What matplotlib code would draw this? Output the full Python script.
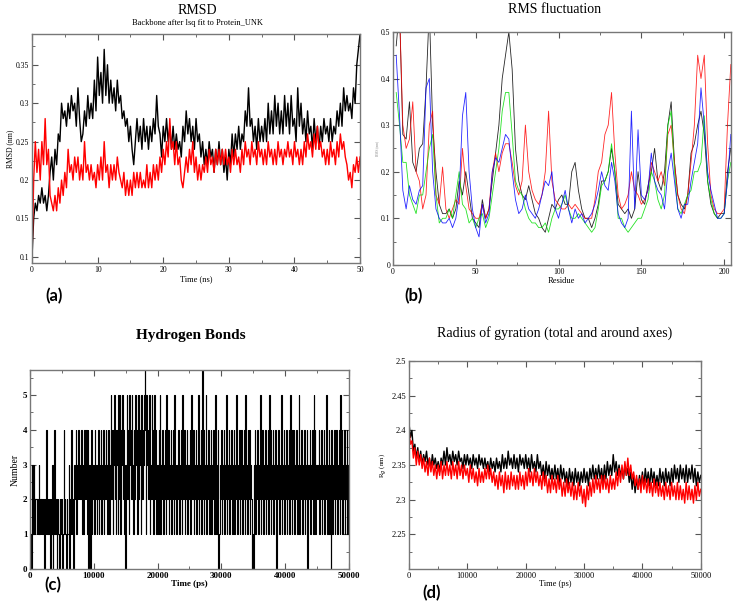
import numpy as np
import matplotlib
matplotlib.use("Agg")
import matplotlib.pyplot as plt
from matplotlib.ticker import MultipleLocator, FormatStrFormatter

plt.rcParams['font.family'] = ['Liberation Serif', 'DejaVu Serif']

# ---- (a) RMSD, 0.25 ns steps ----
rmsd_black = [
    0.10, 0.15, 0.17, 0.16, 0.18, 0.17, 0.19, 0.17, 0.18, 0.16, 0.18, 0.21, 0.23, 0.20, 0.24, 0.22, 0.26, 0.25, 0.30, 0.28,
    0.29, 0.27, 0.30, 0.28, 0.31, 0.29, 0.30, 0.27, 0.32, 0.28, 0.25, 0.26, 0.29, 0.27, 0.31, 0.28, 0.30, 0.28, 0.33, 0.29,
    0.36, 0.31, 0.34, 0.30, 0.37, 0.31, 0.35, 0.30, 0.33, 0.30, 0.32, 0.29, 0.33, 0.30, 0.31, 0.28, 0.29, 0.27, 0.28, 0.25,
    0.27, 0.24, 0.22, 0.25, 0.28, 0.25, 0.27, 0.24, 0.28, 0.25, 0.27, 0.24, 0.27, 0.25, 0.28, 0.26, 0.31, 0.27, 0.26, 0.23,
    0.27, 0.25, 0.28, 0.25, 0.27, 0.24, 0.27, 0.24, 0.26, 0.24, 0.25, 0.23, 0.27, 0.25, 0.29, 0.26, 0.28, 0.25, 0.27, 0.24,
    0.28, 0.25, 0.26, 0.23, 0.25, 0.22, 0.24, 0.22, 0.25, 0.23, 0.24, 0.21, 0.24, 0.22, 0.25, 0.22, 0.24, 0.21, 0.23, 0.20,
    0.24, 0.22, 0.26, 0.23, 0.26, 0.24, 0.27, 0.24, 0.26, 0.25, 0.29, 0.27, 0.32, 0.27, 0.28, 0.25, 0.27, 0.24, 0.28, 0.25,
    0.27, 0.25, 0.28, 0.25, 0.30, 0.26, 0.29, 0.26, 0.31, 0.27, 0.30, 0.26, 0.29, 0.26, 0.31, 0.27, 0.30, 0.26, 0.31, 0.27,
    0.28, 0.25, 0.32, 0.27, 0.30, 0.26, 0.28, 0.25, 0.29, 0.26, 0.27, 0.24, 0.28, 0.25, 0.27, 0.24, 0.27, 0.25, 0.28, 0.26,
    0.27, 0.25, 0.28, 0.25, 0.27, 0.26, 0.29, 0.27, 0.30, 0.27, 0.32, 0.29, 0.31, 0.29, 0.30, 0.28, 0.32, 0.30, 0.35, 0.37,
    0.39]
rmsd_red = [
    0.10, 0.20, 0.25, 0.21, 0.24, 0.20, 0.25, 0.22, 0.28, 0.22, 0.24, 0.18, 0.17, 0.16, 0.18, 0.16, 0.19, 0.17, 0.20, 0.18,
    0.21, 0.19, 0.24, 0.21, 0.22, 0.20, 0.23, 0.21, 0.23, 0.20, 0.22, 0.20, 0.25, 0.21, 0.22, 0.20, 0.22, 0.20, 0.21, 0.19,
    0.22, 0.20, 0.23, 0.20, 0.25, 0.21, 0.22, 0.19, 0.22, 0.20, 0.22, 0.20, 0.23, 0.21, 0.20, 0.19, 0.21, 0.18, 0.20, 0.18,
    0.20, 0.18, 0.21, 0.19, 0.21, 0.19, 0.21, 0.19, 0.20, 0.19, 0.22, 0.19, 0.21, 0.19, 0.22, 0.20, 0.22, 0.20, 0.23, 0.21,
    0.24, 0.22, 0.25, 0.23, 0.28, 0.24, 0.25, 0.22, 0.25, 0.22, 0.23, 0.20, 0.19, 0.21, 0.23, 0.21, 0.24, 0.22, 0.25, 0.21,
    0.23, 0.20, 0.22, 0.20, 0.22, 0.21, 0.23, 0.21, 0.24, 0.22, 0.23, 0.21, 0.24, 0.22, 0.24, 0.22, 0.24, 0.22, 0.24, 0.22,
    0.23, 0.21, 0.24, 0.22, 0.24, 0.22, 0.23, 0.21, 0.24, 0.22, 0.25, 0.23, 0.24, 0.22, 0.25, 0.23, 0.24, 0.22, 0.25, 0.23,
    0.24, 0.22, 0.24, 0.22, 0.25, 0.23, 0.24, 0.22, 0.24, 0.22, 0.25, 0.23, 0.24, 0.22, 0.24, 0.23, 0.25, 0.23, 0.24, 0.22,
    0.25, 0.23, 0.24, 0.22, 0.24, 0.22, 0.25, 0.23, 0.26, 0.24, 0.25, 0.23, 0.26, 0.24, 0.27, 0.24, 0.25, 0.23, 0.24, 0.22,
    0.24, 0.22, 0.25, 0.23, 0.24, 0.22, 0.25, 0.23, 0.26, 0.24, 0.25, 0.23, 0.22, 0.20, 0.21, 0.19, 0.22, 0.21, 0.23, 0.21,
    0.23]

# ---- (b) RMSF, every second residue starting at 2 ----
rmsf_black = [
    0.47, 0.55, 0.28, 0.27, 0.35, 0.22, 0.20, 0.25, 0.26, 0.38, 0.55, 0.30, 0.20, 0.13, 0.11, 0.11, 0.12, 0.10, 0.12, 0.18,
    0.15, 0.20, 0.15, 0.10, 0.09, 0.08, 0.14, 0.10, 0.12, 0.18, 0.24, 0.30, 0.40, 0.45, 0.50, 0.42, 0.25, 0.18, 0.15, 0.14,
    0.17, 0.14, 0.11, 0.10, 0.08, 0.07, 0.10, 0.13, 0.12, 0.14, 0.15, 0.13, 0.13, 0.20, 0.22, 0.16, 0.12, 0.10, 0.10, 0.08,
    0.10, 0.13, 0.18, 0.18, 0.20, 0.25, 0.20, 0.13, 0.12, 0.11, 0.12, 0.10, 0.12, 0.20, 0.14, 0.13, 0.17, 0.20, 0.25, 0.18,
    0.16, 0.20, 0.30, 0.35, 0.22, 0.15, 0.13, 0.12, 0.15, 0.24, 0.26, 0.30, 0.33, 0.28, 0.18, 0.13, 0.11, 0.10, 0.11, 0.11,
    0.20, 0.25]
rmsf_red = [
    0.50, 0.55, 0.30, 0.25, 0.27, 0.35, 0.20, 0.18, 0.12, 0.15, 0.30, 0.33, 0.15, 0.13, 0.21, 0.12, 0.10, 0.12, 0.14, 0.13,
    0.25, 0.17, 0.12, 0.11, 0.10, 0.10, 0.13, 0.10, 0.12, 0.20, 0.24, 0.20, 0.24, 0.26, 0.26, 0.22, 0.17, 0.15, 0.18, 0.30,
    0.20, 0.16, 0.14, 0.13, 0.15, 0.20, 0.33, 0.18, 0.14, 0.13, 0.12, 0.12, 0.13, 0.12, 0.13, 0.12, 0.11, 0.10, 0.10, 0.10,
    0.14, 0.20, 0.22, 0.28, 0.30, 0.37, 0.24, 0.15, 0.12, 0.13, 0.15, 0.20, 0.16, 0.15, 0.13, 0.14, 0.16, 0.22, 0.20, 0.18,
    0.20, 0.17, 0.28, 0.30, 0.22, 0.15, 0.12, 0.11, 0.15, 0.22, 0.30, 0.45, 0.40, 0.45, 0.26, 0.15, 0.12, 0.11, 0.11, 0.12,
    0.30, 0.43]
rmsf_green = [
    0.37, 0.30, 0.22, 0.22, 0.15, 0.13, 0.11, 0.15, 0.15, 0.20, 0.25, 0.28, 0.15, 0.09, 0.10, 0.10, 0.12, 0.10, 0.15, 0.20,
    0.13, 0.12, 0.09, 0.10, 0.08, 0.10, 0.11, 0.08, 0.10, 0.15, 0.20, 0.25, 0.33, 0.37, 0.37, 0.28, 0.18, 0.16, 0.15, 0.12,
    0.10, 0.09, 0.09, 0.08, 0.08, 0.09, 0.07, 0.10, 0.12, 0.12, 0.13, 0.15, 0.12, 0.10, 0.10, 0.11, 0.10, 0.09, 0.08, 0.07,
    0.08, 0.12, 0.17, 0.18, 0.20, 0.26, 0.20, 0.10, 0.10, 0.08, 0.07, 0.08, 0.09, 0.10, 0.10, 0.12, 0.14, 0.20, 0.18, 0.14,
    0.12, 0.15, 0.30, 0.33, 0.20, 0.12, 0.11, 0.13, 0.15, 0.16, 0.20, 0.20, 0.22, 0.32, 0.18, 0.14, 0.11, 0.10, 0.10, 0.11,
    0.18, 0.22]
rmsf_blue = [
    0.45, 0.32, 0.16, 0.12, 0.17, 0.14, 0.13, 0.16, 0.17, 0.38, 0.40, 0.20, 0.12, 0.10, 0.09, 0.09, 0.10, 0.08, 0.10, 0.15,
    0.32, 0.37, 0.20, 0.12, 0.08, 0.06, 0.13, 0.09, 0.11, 0.20, 0.23, 0.22, 0.25, 0.28, 0.27, 0.20, 0.14, 0.11, 0.12, 0.15,
    0.12, 0.11, 0.10, 0.12, 0.15, 0.18, 0.17, 0.20, 0.12, 0.10, 0.13, 0.16, 0.12, 0.09, 0.12, 0.10, 0.11, 0.09, 0.10, 0.11,
    0.13, 0.16, 0.20, 0.17, 0.16, 0.22, 0.18, 0.11, 0.09, 0.08, 0.10, 0.33, 0.12, 0.29, 0.15, 0.14, 0.16, 0.24, 0.18, 0.16,
    0.15, 0.12, 0.20, 0.24, 0.18, 0.12, 0.10, 0.13, 0.13, 0.18, 0.22, 0.26, 0.38, 0.30, 0.20, 0.16, 0.13, 0.10, 0.10, 0.11,
    0.18, 0.28]

# ---- (c) hydrogen bonds, one value per 100 ps ----
hbond_digits = (
    "3102313212" "2121312121" "1210214121" "2102130141" "1201210212"
    "2014121021" "1302141201" "3241324232" "2413142324" "1403204132"
    "3142312413" "2413241324" "3142413524" "1352413415" "2514352413"
    "0352415342" "5314253415" "2534152435" "6415342513" "2543152413"
    "3142513241" "3241532413" "2413241523" "1324132415" "3241324132"
    "2415324132" "4132513241" "6241325132" "4132413241" "2513240132"
    "4132413251" "3241324132" "4132513241" "3241324152" "3142413201"
    "0324132413" "2513241324" "1324152413" "2413240132" "4132513241"
    "3241324152" "3142413241" "3251324132" "4132401324" "1324152413"
    "2324132413" "2413251324" "1304132413" "2413241524" "1324132413" "3")
hbond_count = [int(c) for c in hbond_digits]

# ---- (d) radius of gyration, 250 ps steps ----
rg_black = [
    2.41, 2.39, 2.40, 2.37, 2.38, 2.36, 2.375, 2.355, 2.37, 2.35, 2.365, 2.355, 2.37, 2.35, 2.36, 2.345, 2.365, 2.35, 2.36, 2.345,
    2.355, 2.34, 2.36, 2.35, 2.37, 2.35, 2.375, 2.355, 2.365, 2.35, 2.37, 2.355, 2.365, 2.35, 2.37, 2.355, 2.36, 2.345, 2.365, 2.35,
    2.365, 2.35, 2.36, 2.345, 2.365, 2.35, 2.36, 2.345, 2.365, 2.35, 2.36, 2.345, 2.36, 2.345, 2.355, 2.34, 2.36, 2.345, 2.355, 2.34,
    2.36, 2.345, 2.355, 2.34, 2.365, 2.345, 2.36, 2.345, 2.37, 2.35, 2.36, 2.345, 2.365, 2.345, 2.36, 2.34, 2.365, 2.35, 2.36, 2.345,
    2.365, 2.345, 2.36, 2.34, 2.365, 2.345, 2.355, 2.34, 2.365, 2.345, 2.355, 2.335, 2.35, 2.33, 2.355, 2.335, 2.35, 2.33, 2.345, 2.33,
    2.35, 2.33, 2.345, 2.325, 2.35, 2.33, 2.345, 2.325, 2.34, 2.32, 2.345, 2.325, 2.34, 2.32, 2.345, 2.325, 2.34, 2.32, 2.34, 2.325,
    2.345, 2.325, 2.34, 2.32, 2.345, 2.33, 2.35, 2.33, 2.345, 2.33, 2.35, 2.33, 2.345, 2.325, 2.35, 2.33, 2.355, 2.335, 2.35, 2.335,
    2.365, 2.34, 2.355, 2.335, 2.35, 2.335, 2.345, 2.33, 2.35, 2.335, 2.345, 2.325, 2.34, 2.315, 2.335, 2.31, 2.33, 2.315, 2.335, 2.32,
    2.34, 2.32, 2.345, 2.325, 2.34, 2.32, 2.345, 2.325, 2.34, 2.32, 2.335, 2.32, 2.345, 2.325, 2.34, 2.32, 2.345, 2.325, 2.34, 2.32,
    2.345, 2.325, 2.35, 2.33, 2.345, 2.325, 2.35, 2.33, 2.345, 2.325, 2.35, 2.325, 2.345, 2.33, 2.35, 2.325, 2.345, 2.32, 2.34, 2.325,
    2.335]
rg_red = [
    2.40, 2.38, 2.385, 2.36, 2.375, 2.35, 2.37, 2.35, 2.365, 2.345, 2.36, 2.34, 2.355, 2.335, 2.36, 2.34, 2.355, 2.335, 2.35, 2.33,
    2.35, 2.335, 2.355, 2.33, 2.35, 2.335, 2.355, 2.335, 2.35, 2.33, 2.355, 2.335, 2.35, 2.33, 2.355, 2.335, 2.35, 2.33, 2.35, 2.335,
    2.345, 2.325, 2.35, 2.33, 2.345, 2.325, 2.34, 2.32, 2.345, 2.325, 2.34, 2.325, 2.345, 2.33, 2.35, 2.33, 2.345, 2.325, 2.34, 2.32,
    2.335, 2.315, 2.34, 2.32, 2.335, 2.31, 2.34, 2.315, 2.335, 2.315, 2.34, 2.32, 2.335, 2.315, 2.335, 2.315, 2.34, 2.32, 2.335, 2.315,
    2.34, 2.32, 2.345, 2.325, 2.34, 2.32, 2.345, 2.325, 2.34, 2.32, 2.335, 2.315, 2.34, 2.32, 2.335, 2.31, 2.33, 2.31, 2.335, 2.315,
    2.33, 2.31, 2.335, 2.315, 2.33, 2.305, 2.325, 2.305, 2.33, 2.31, 2.325, 2.305, 2.325, 2.30, 2.32, 2.30, 2.325, 2.305, 2.32, 2.295,
    2.315, 2.29, 2.32, 2.30, 2.325, 2.305, 2.33, 2.31, 2.335, 2.315, 2.33, 2.31, 2.335, 2.315, 2.335, 2.315, 2.33, 2.31, 2.335, 2.315,
    2.33, 2.315, 2.34, 2.32, 2.345, 2.325, 2.35, 2.33, 2.355, 2.335, 2.36, 2.335, 2.35, 2.33, 2.34, 2.32, 2.335, 2.315, 2.33, 2.31,
    2.335, 2.315, 2.33, 2.31, 2.33, 2.31, 2.325, 2.305, 2.33, 2.31, 2.325, 2.305, 2.325, 2.305, 2.32, 2.30, 2.325, 2.305, 2.32, 2.30,
    2.325, 2.305, 2.32, 2.30, 2.325, 2.30, 2.32, 2.30, 2.315, 2.295, 2.325, 2.30, 2.32, 2.30, 2.315, 2.295, 2.32, 2.30, 2.325, 2.305,
    2.315]


def grace_axes(ax, xmaj, xmin, ymaj, ymin, size=5.5):
    ax.xaxis.set_major_locator(MultipleLocator(xmaj))
    ax.xaxis.set_minor_locator(MultipleLocator(xmin))
    ax.yaxis.set_major_locator(MultipleLocator(ymaj))
    ax.yaxis.set_minor_locator(MultipleLocator(ymin))
    ax.tick_params(which='both', direction='in', top=True, right=True,
                   color='#555555', labelsize=size, pad=2)
    ax.tick_params(which='major', length=4, width=0.8)
    ax.tick_params(which='minor', length=2.5, width=0.6)
    for s in ax.spines.values():
        s.set_color('#777777')
        s.set_linewidth(1.0)


fig = plt.figure(figsize=(7.33, 6.02), dpi=100)

# (a)
ax = fig.add_axes([0.0437, 0.563, 0.4475, 0.3805])
t_ns = np.arange(len(rmsd_black)) * 0.25
ax.plot(t_ns, rmsd_black, color='black', lw=1.0)
ax.plot(np.arange(len(rmsd_red)) * 0.25, rmsd_red, color='red', lw=1.0)
ax.set_xlim(0, 50)
ax.set_ylim(0.092, 0.39)
grace_axes(ax, 10, 5, 0.05, 0.025)
ax.yaxis.set_major_formatter(FormatStrFormatter('%g'))
ax.set_xlabel('Time (ns)', fontsize=6, labelpad=1)
ax.set_ylabel('RMSD (nm)', fontsize=5.5, labelpad=1)
fig.text(0.269, 0.982, 'RMSD', ha='center', va='center', fontsize=10)
fig.text(0.269, 0.961, 'Backbone after lsq fit to Protein_UNK', ha='center', va='center', fontsize=6)

# (b)
ax = fig.add_axes([0.536, 0.560, 0.461, 0.387])
for vals, col in [(rmsf_black, 'black'), (rmsf_red, 'red'),
                  (rmsf_green, '#00dd00'), (rmsf_blue, 'blue')]:
    ax.plot(2 + 2 * np.arange(len(vals)), vals, color=col, lw=0.6, alpha=0.85)
ax.set_xlim(0, 204)
ax.set_ylim(0, 0.5)
grace_axes(ax, 50, 25, 0.1, 0.05)
ax.yaxis.set_major_formatter(FormatStrFormatter('%g'))
ax.set_xlabel('Residue', fontsize=6, labelpad=1)
ax.set_ylabel('RMS (nm)', fontsize=2.5, color='#888888', labelpad=1)
fig.text(0.757, 0.985, 'RMS fluctuation', ha='center', va='center', fontsize=10)

# (c)
ax = fig.add_axes([0.041, 0.0548, 0.435, 0.3306])
t_ps = np.arange(len(hbond_count)) * 100
ax.plot(t_ps, hbond_count, color='black', lw=0.8, drawstyle='steps-mid')
ax.set_xlim(0, 50000)
ax.set_ylim(0, 5.72)
grace_axes(ax, 10000, 5000, 1, 0.5, size=6.5)
for lab in ax.get_xticklabels() + ax.get_yticklabels():
    lab.set_fontweight('bold')
ax.set_xlabel('Time (ps)', fontsize=6.5, fontweight='bold', labelpad=0)
ax.set_ylabel('Number', fontsize=7, labelpad=2)
fig.text(0.26, 0.443, 'Hydrogen Bonds', ha='center', va='center',
         fontsize=11, fontweight='bold')

# (d)
ax = fig.add_axes([0.558, 0.0548, 0.398, 0.3455])
t_rg = np.arange(len(rg_black)) * 250
ax.plot(t_rg, rg_black, color='black', lw=1.0)
ax.plot(np.arange(len(rg_red)) * 250, rg_red, color='red', lw=1.0)
ax.set_xlim(0, 50000)
ax.set_ylim(2.2, 2.5)
grace_axes(ax, 10000, 5000, 0.05, 0.025, size=6)
ax.yaxis.set_major_formatter(FormatStrFormatter('%g'))
ax.set_yticks([2.25, 2.3, 2.35, 2.4, 2.45, 2.5])
ax.set_xlabel('Time (ps)', fontsize=6, labelpad=0)
ax.set_ylabel(r'R$_g$ (nm)', fontsize=5, labelpad=2)
fig.text(0.757, 0.447, 'Radius of gyration (total and around axes)',
         ha='center', va='center', fontsize=10)

# panel letters
lab_font = dict(fontsize=12, fontweight='bold', family=['Lato', 'DejaVu Sans'])
fig.text(0.062, 0.508, '(a)', va='center', **lab_font)
fig.text(0.552, 0.508, '(b)', va='center', **lab_font)
fig.text(0.060, 0.028, '(c)', va='center', **lab_font)
fig.text(0.576, 0.015, '(d)', va='center', **lab_font)

fig.savefig('out.png', dpi=100)
